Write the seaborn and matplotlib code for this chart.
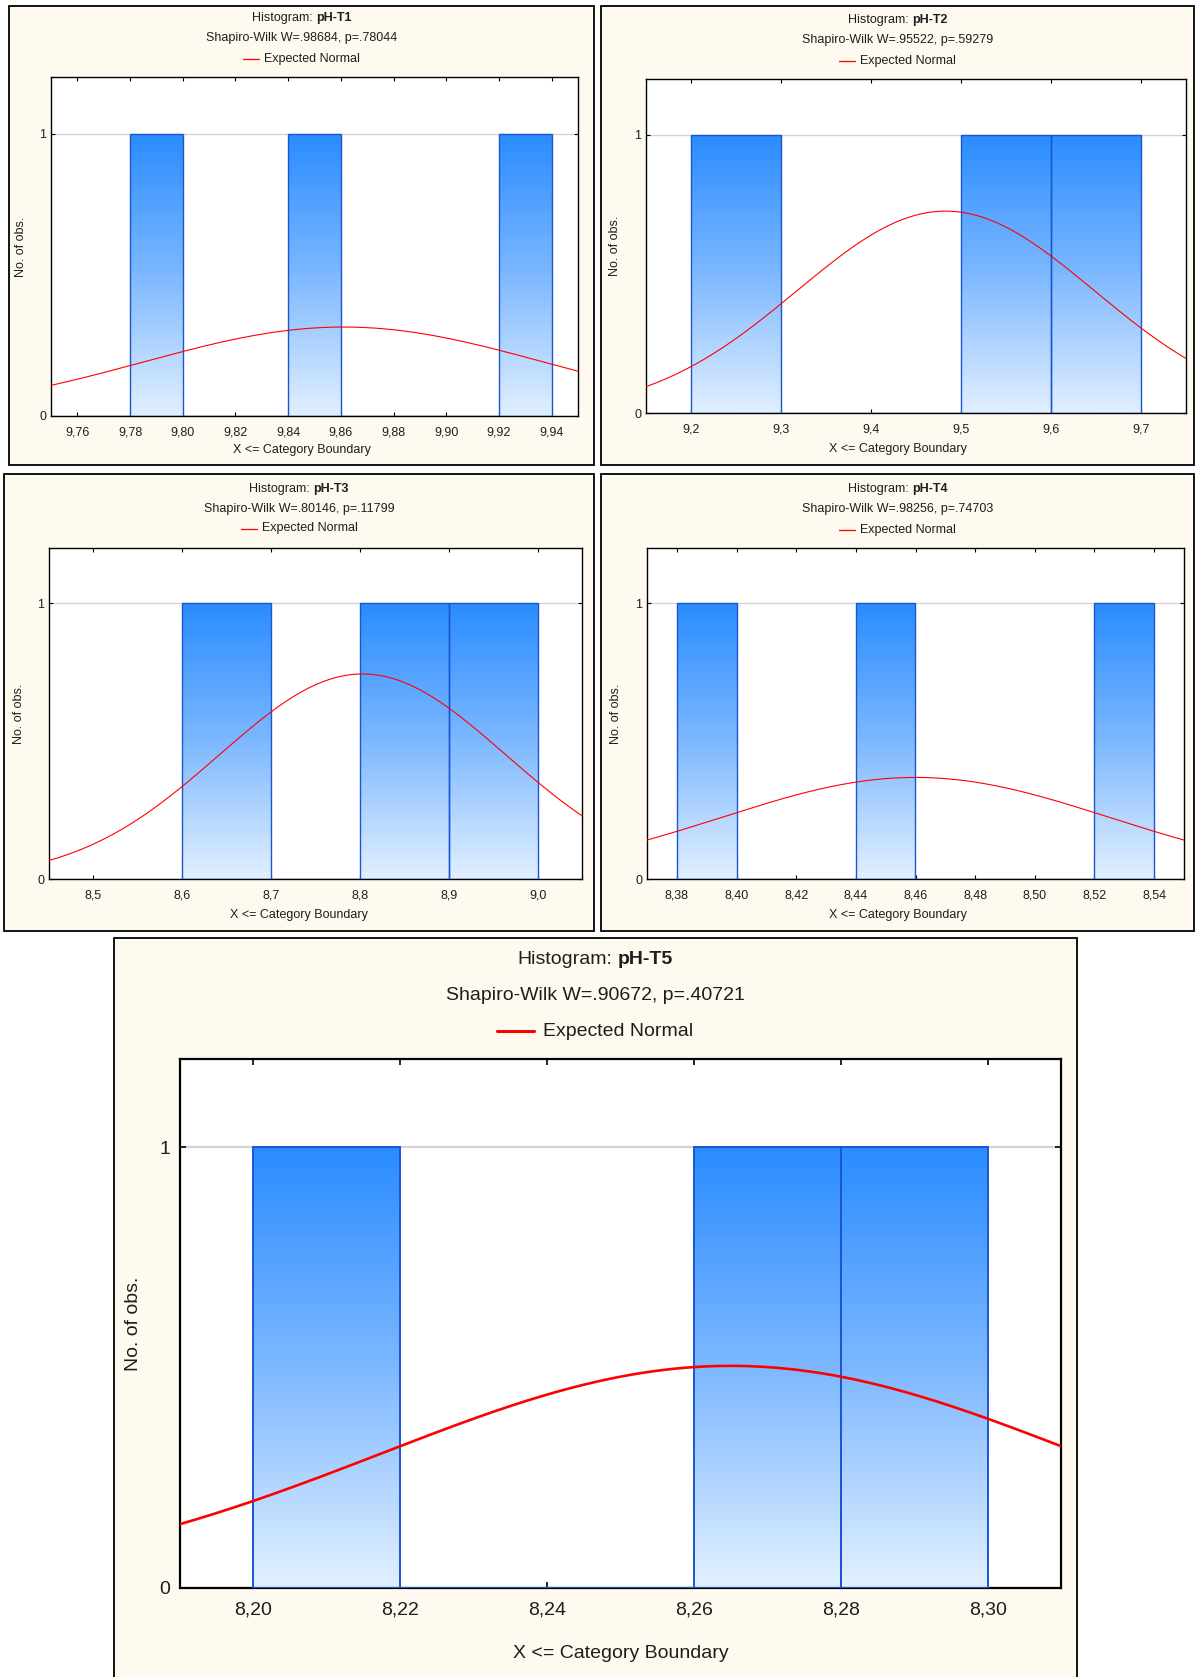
import numpy as np
import pandas as pd
import seaborn as sns
import matplotlib.pyplot as plt
from matplotlib.patches import Rectangle
from matplotlib.lines import Line2D
from matplotlib.colors import LinearSegmentedColormap

# data
names = ["pH-T1", "pH-T2", "pH-T3", "pH-T4", "pH-T5"]
sw_w = [".98684", ".95522", ".80146", ".98256", ".90672"]
sw_p = [".78044", ".59279", ".11799", ".74703", ".40721"]
obs = [
    [9.79, 9.85, 9.93],
    [9.25, 9.55, 9.65],
    [8.65, 8.85, 8.95],
    [8.39, 8.45, 8.53],
    [8.21, 8.27, 8.29],
]
bin_lo = [9.76, 9.2, 8.6, 8.38, 8.20]
bin_hi = [9.94, 9.7, 9.0, 8.54, 8.30]
bin_w = [0.02, 0.1, 0.1, 0.02, 0.02]
norm_mean = [9.861, 9.483, 8.803, 8.460, 8.265]
norm_sd = [0.076, 0.165, 0.161, 0.065, 0.0475]
x_min = [9.75, 9.15, 8.45, 8.37, 8.19]
x_max = [9.95, 9.75, 9.05, 8.55, 8.31]
tick_labels = [
    ["9,76", "9,78", "9,80", "9,82", "9,84", "9,86", "9,88", "9,90", "9,92", "9,94"],
    ["9,2", "9,3", "9,4", "9,5", "9,6", "9,7"],
    ["8,5", "8,6", "8,7", "8,8", "8,9", "9,0"],
    ["8,38", "8,40", "8,42", "8,44", "8,46", "8,48", "8,50", "8,52", "8,54"],
    ["8,20", "8,22", "8,24", "8,26", "8,28", "8,30"],
]

W, H = 1195, 1677
CREAM = "#fffaef"
TXT = "#1e1e1e"
cmap = LinearSegmentedColormap.from_list("bar", ["#e2f0ff", "#7db8ff", "#2a8cff"])

# pixel layout: frame box, axes box, text rows (title, subtitle, legend), xlabel y, ylabel x
layout = [
    dict(frame=(9, 6, 594, 465), axes=(51, 77, 578, 416), rows=(18, 38.5, 59), xlab=450, ylab=21, big=False),
    dict(frame=(601, 6, 1194, 465), axes=(646, 79, 1186, 413), rows=(20, 40.5, 61), xlab=449, ylab=615, big=False),
    dict(frame=(4, 474, 594, 931), axes=(49, 548, 582, 879), rows=(489, 509, 528.5), xlab=915, ylab=19, big=False),
    dict(frame=(601, 474, 1194, 931), axes=(647, 548, 1184, 879), rows=(489, 509, 529.5), xlab=915, ylab=616, big=False),
    dict(frame=(114, 938, 1077, 1690), axes=(180, 1059, 1061, 1588), rows=(960, 995, 1031), xlab=1654, ylab=134, big=True),
]

sns.set_theme(style="white")
plt.rcParams["font.family"] = ["Liberation Sans", "DejaVu Sans"]

fig = plt.figure(figsize=(W / 100, H / 100), dpi=100)
fig.patch.set_facecolor("white")
renderer = fig.canvas.get_renderer()


def ftext(x, y, s, **kw):
    return fig.text(x / W, 1 - y / H, s, **kw)


def width_px(t):
    return t.get_window_extent(renderer).width


for i, lay in enumerate(layout):
    big = lay["big"]
    fs = 14 if big else 9
    fx0, fy0, fx1, fy1 = lay["frame"]
    fig.add_artist(Rectangle((fx0 / W, 1 - fy1 / H), (fx1 - fx0) / W, (fy1 - fy0) / H,
                             transform=fig.transFigure, facecolor=CREAM, edgecolor="black",
                             lw=1.3, zorder=-5))
    cx = (fx0 + fx1) / 2

    # title with bold variable name
    t_a = ftext(0, lay["rows"][0], "Histogram:", fontsize=fs, color=TXT, va="center")
    t_b = ftext(0, lay["rows"][0], names[i], fontsize=fs, color=TXT, va="center", weight="bold")
    gap = fs * 0.4
    wa, wb = width_px(t_a), width_px(t_b)
    start = cx - (wa + gap + wb) / 2
    t_a.set_position((start / W, 1 - lay["rows"][0] / H))
    t_b.set_position(((start + wa + gap) / W, 1 - lay["rows"][0] / H))

    ftext(cx, lay["rows"][1], f"Shapiro-Wilk W={sw_w[i]}, p={sw_p[i]}", fontsize=fs,
          color=TXT, ha="center", va="center")

    # legend entry
    leg_len = 37 if big else 16
    leg_gap = 9 if big else 5
    lt = ftext(0, lay["rows"][2], "Expected Normal", fontsize=fs, color=TXT, va="center")
    lw_txt = width_px(lt)
    ls = cx - (leg_len + leg_gap + lw_txt) / 2
    lt.set_position(((ls + leg_len + leg_gap) / W, 1 - lay["rows"][2] / H))
    fig.add_artist(Line2D([ls / W, (ls + leg_len) / W], [1 - lay["rows"][2] / H] * 2,
                          transform=fig.transFigure, color="red", lw=2.2 if big else 0.9))

    ax0, ay0, ax1, ay1 = lay["axes"]
    ax = fig.add_axes([ax0 / W, 1 - ay1 / H, (ax1 - ax0) / W, (ay1 - ay0) / H])
    ax.set_facecolor("white")

    n_bins = int(round((bin_hi[i] - bin_lo[i]) / bin_w[i]))
    edges = np.round(np.linspace(bin_lo[i], bin_hi[i], n_bins + 1), 4)
    df = pd.DataFrame({"ph": obs[i]})
    sns.histplot(data=df, x="ph", bins=edges, ax=ax, stat="count", fill=True,
                 facecolor="none", edgecolor="#1a55d4", linewidth=1.4 if big else 1.0, zorder=3)
    for p in ax.patches:
        h = p.get_height()
        if h > 0:
            x = p.get_x()
            im = ax.imshow(np.linspace(0, 1, 256).reshape(-1, 1), extent=[x, x + p.get_width(), 0, h],
                           origin="lower", aspect="auto", cmap=cmap, zorder=2)
            im.set_clip_path(p)

    # expected normal curve
    xs = np.linspace(x_min[i], x_max[i], 400)
    ys = len(obs[i]) * bin_w[i] * np.exp(-0.5 * ((xs - norm_mean[i]) / norm_sd[i]) ** 2) / (norm_sd[i] * np.sqrt(2 * np.pi))
    sns.lineplot(x=xs, y=ys, ax=ax, color="red", lw=1.9 if big else 0.8, zorder=4)

    ax.set_xlim(x_min[i], x_max[i])
    ax.set_ylim(0, 1.2)
    ax.set_aspect("auto")
    ticks = [float(s.replace(",", ".")) for s in tick_labels[i]]
    ax.set_xticks(ticks)
    ax.set_xticklabels(tick_labels[i])
    ax.set_yticks([0, 1])
    ax.set_yticklabels(["0", "1"])
    ax.set_xlabel("")
    ax.set_ylabel("")
    ax.yaxis.grid(True, color="#d4d4d4", lw=1.6 if big else 1.0)
    ax.set_axisbelow(True)
    for sp in ax.spines.values():
        sp.set_visible(True)
        sp.set_color("black")
        sp.set_linewidth(1.6 if big else 1.0)
    ax.tick_params(axis="both", direction="in", length=4 if big else 3, width=1.2 if big else 0.8,
                   color="black", top=True, right=True, bottom=True, left=True,
                   labelsize=fs, labelcolor=TXT)
    ax.tick_params(axis="x", pad=10 if big else 7.5)
    ax.tick_params(axis="y", pad=7 if big else 3.5)

    ftext(cx if not big else (ax0 + ax1) / 2, lay["xlab"], "X <= Category Boundary", fontsize=fs,
          color=TXT, ha="center", va="center")
    ftext(lay["ylab"], (ay0 + ay1) / 2, "No. of obs.", fontsize=fs, color=TXT, ha="center",
          va="center", rotation=90)

fig.savefig("out.png", dpi=100)
